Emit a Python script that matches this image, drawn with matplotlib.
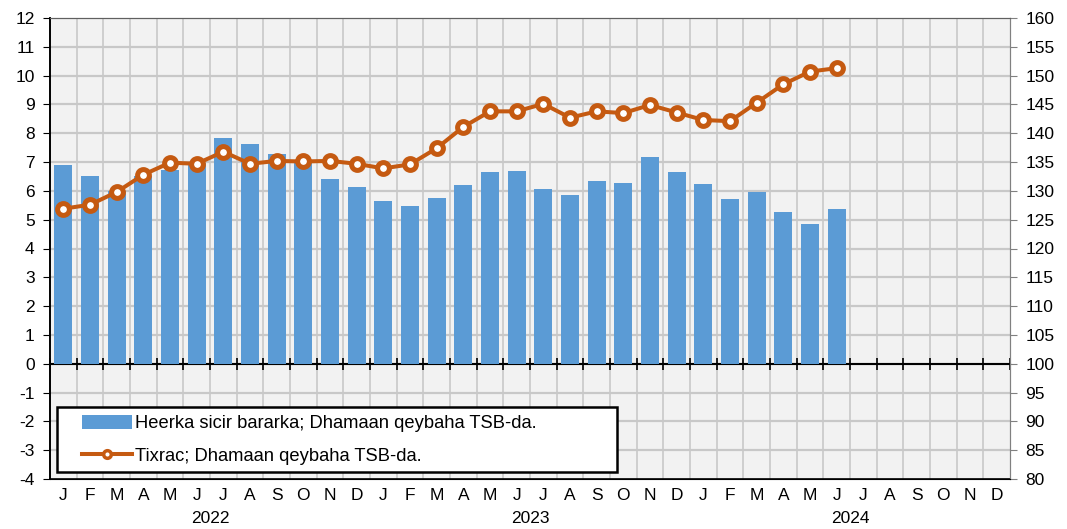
import matplotlib
matplotlib.use("Agg")
import matplotlib.pyplot as plt
from matplotlib.lines import Line2D
from matplotlib.patches import Rectangle, Patch
import numpy as np

plt.rcParams['font.family'] = ['Liberation Sans', 'DejaVu Sans']
plt.rcParams['axes.unicode_minus'] = False

month_labels = ["J", "F", "M", "A", "M", "J", "J", "A", "S", "O", "N", "D"] * 3
year_labels = ["2022", "2023", "2024"]

bar_values = [6.89, 6.50, 5.98, 6.50, 6.74, 6.97, 7.82, 7.64, 7.29, 7.03, 6.42, 6.12,
              5.64, 5.49, 5.75, 6.22, 6.66, 6.70, 6.06, 5.87, 6.33, 6.28, 7.16, 6.66,
              6.25, 5.72, 5.95, 5.28, 4.86, 5.38]
line_values = [126.9, 127.6, 129.8, 132.8, 134.9, 134.7, 136.8, 134.7, 135.2, 135.1, 135.2, 134.7,
               133.9, 134.6, 137.4, 141.1, 143.8, 143.8, 145.1, 142.7, 143.8, 143.5, 144.9, 143.6,
               142.3, 142.1, 145.3, 148.5, 150.7, 151.3]

bar_name = "Heerka sicir bararka; Dhamaan qeybaha TSB-da."
line_name = "Tixrac; Dhamaan qeybaha TSB-da."

bar_color = "#5b9bd5"
line_color = "#c55a11"
grid_color = "#c8c8c8"

fig = plt.figure(figsize=(10.67, 5.29), dpi=100)
ax = fig.add_axes([50/1067, 1 - 479/529, 960/1067, 461/529])
ax.set_facecolor("#f2f2f2")

n_months = len(month_labels)
x = np.arange(len(bar_values))
ax.set_xlim(-0.5, n_months - 0.5)
ax.set_ylim(-4, 12)

# grid
ax.set_yticks(np.arange(-4, 13, 1))
for b in np.arange(0.5, n_months - 0.5, 1):
    ax.axvline(b, color=grid_color, lw=1.2, zorder=0)
for yv in np.arange(-3, 12, 1):
    ax.axhline(yv, color=grid_color, lw=1.6, zorder=0)

bars = ax.bar(x, bar_values, width=0.68, color=bar_color, zorder=2)

ax2 = ax.twinx()
ax2.set_ylim(80, 160)
ax2.set_yticks(np.arange(80, 161, 5))
ax2.plot(x, line_values, color=line_color, lw=2.9, marker="o", ms=8.5,
         markerfacecolor="white", markeredgecolor=line_color, markeredgewidth=3.6,
         zorder=3)

# zero line with crossing ticks
zero_pos = (0 - (-4)) / 16
sec = ax.secondary_xaxis(zero_pos)
sec.set_xticks(np.arange(-0.5, n_months, 1))
sec.tick_params(direction='inout', length=8, width=1.2, labelbottom=False, labeltop=False, color="black")
sec.spines['bottom'].set_linewidth(1.5)
sec.spines['bottom'].set_color("black")
sec.spines['top'].set_visible(False)

ax.set_xticks([])
ax.tick_params(axis='y', direction='out', length=5, labelsize=12.5, pad=6)
ax2.tick_params(axis='y', direction='out', length=5, labelsize=12.5, pad=6, color="#808080")

for s in ['left', 'bottom']:
    ax.spines[s].set_color("black")
    ax.spines[s].set_linewidth(1.2)
ax.spines['top'].set_color("#606060")
ax.spines['right'].set_color("#808080")
ax2.spines['right'].set_color("#808080")
ax2.spines['top'].set_color("#606060")
ax2.spines['left'].set_color("black")
ax2.spines['bottom'].set_color("black")
ax2.spines['left'].set_linewidth(1.2)

# month labels
for i, lab in enumerate(month_labels):
    ax.text(i, -0.02, lab, transform=ax.get_xaxis_transform(), ha='center', va='top', fontsize=12.5)
for k, yl in enumerate(year_labels):
    ax.text(12 * k + 5.5, -0.069, yl, transform=ax.get_xaxis_transform(), ha='center', va='top', fontsize=12.5)

# legend frame
frame = Rectangle((7/960, 7/461), 560/960, 65/461, transform=ax2.transAxes,
                  facecolor="white", edgecolor="black", lw=1.8, zorder=4, clip_on=False)
ax2.add_patch(frame)
h_bar = Patch(facecolor=bar_color, edgecolor='none')
h_line = Line2D([], [], color=line_color, lw=2.9, marker="o", ms=5.5,
                markerfacecolor="white", markeredgecolor=line_color, markeredgewidth=2.5)
leg = ax2.legend([h_bar, h_line], [bar_name, line_name], loc='center left',
                 bbox_to_anchor=(32/960, 39/461),
                 fontsize=13.2, frameon=False, handlelength=2.7, handleheight=0.8,
                 handletextpad=0.2, borderpad=0, labelspacing=0.85, borderaxespad=0)
leg.set_zorder(5)

fig.savefig("out.png", dpi=100)
